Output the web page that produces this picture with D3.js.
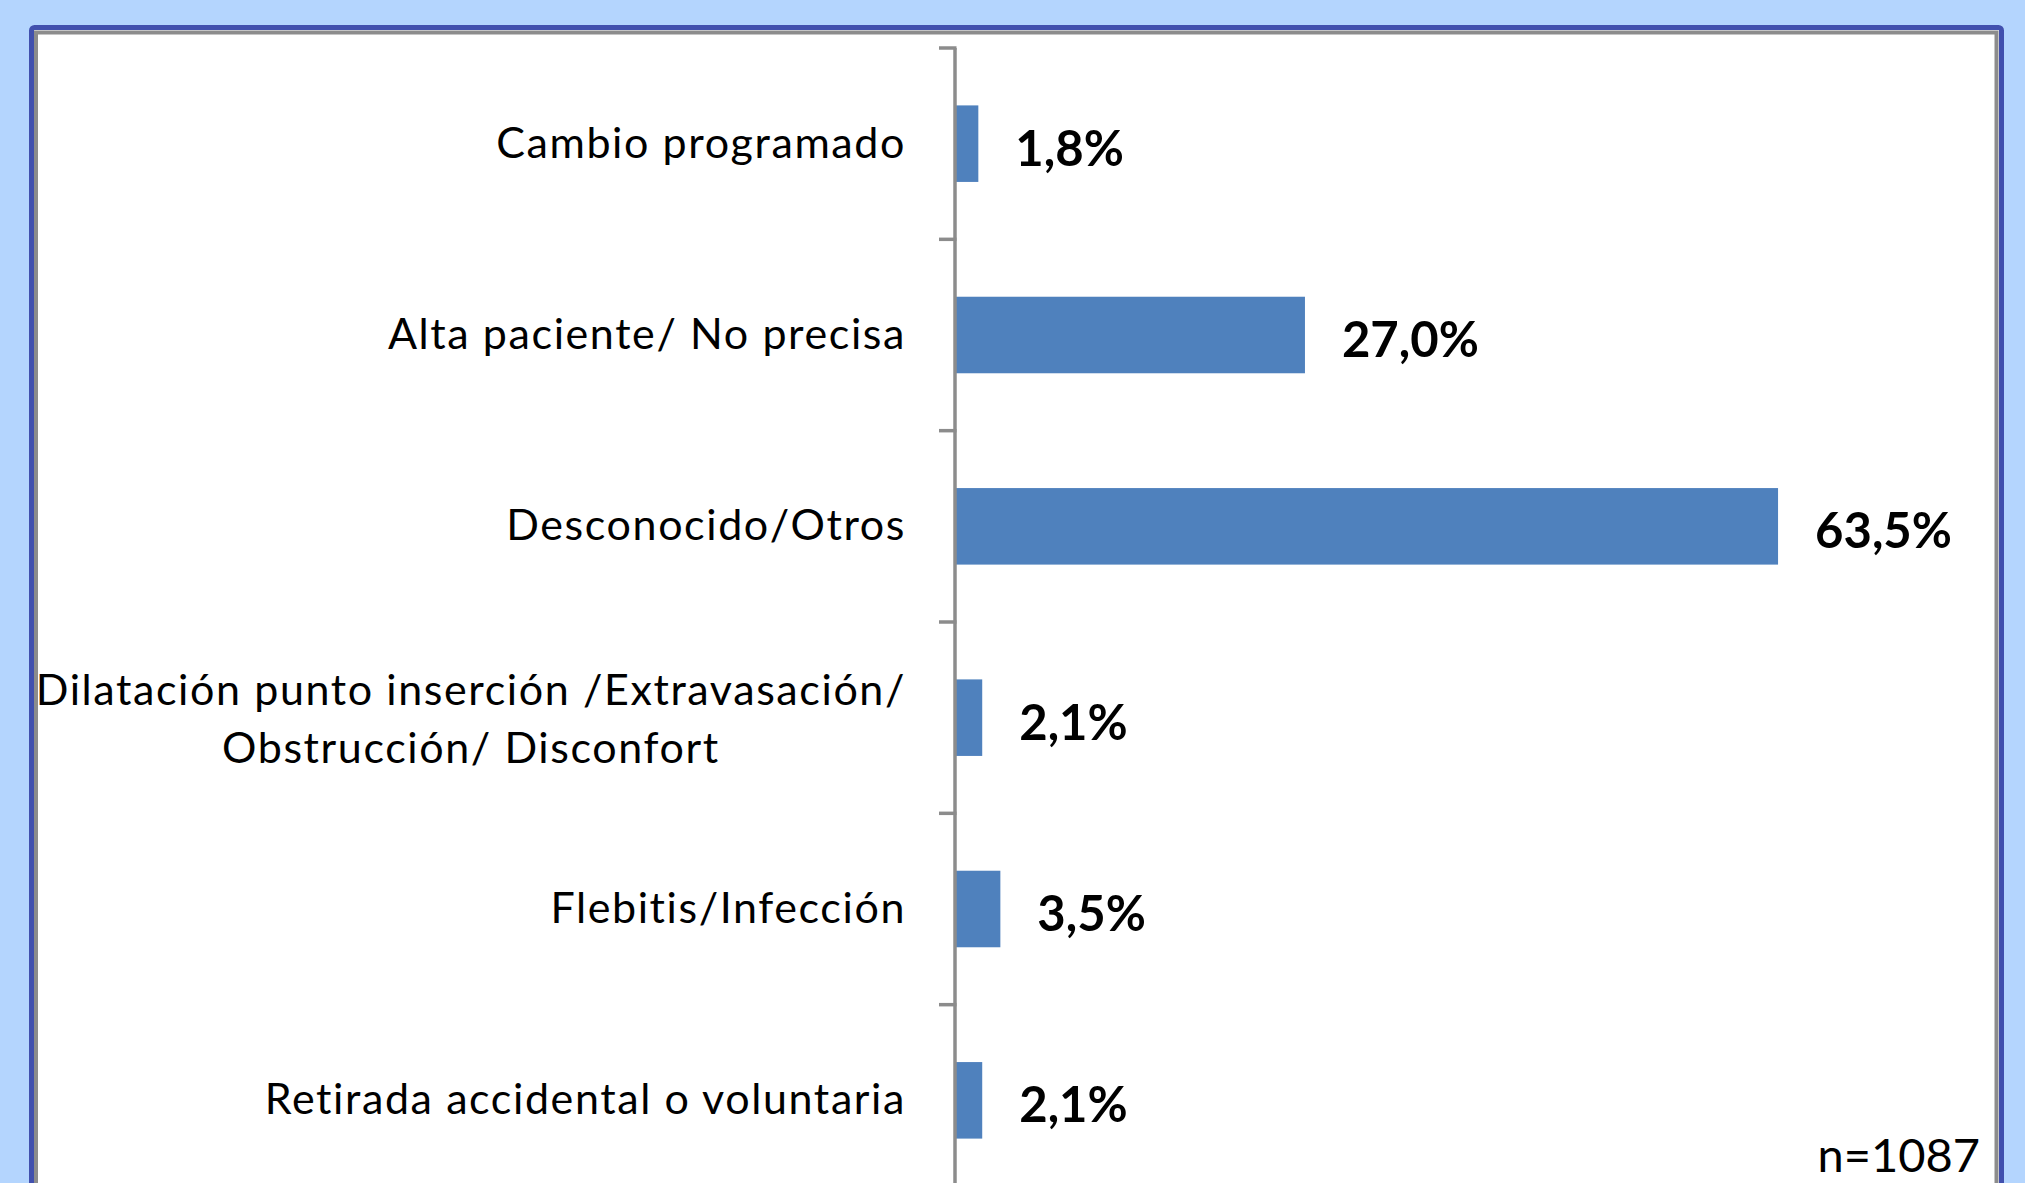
<!DOCTYPE html>
<html>
<head>
<meta charset="utf-8">
<script src="https://cdn.jsdelivr.net/npm/d3@7"></script>
<style>
  html, body { margin: 0; padding: 0; background: #B4D5FE; overflow: hidden; }
  svg { display: block; }
</style>
</head>
<body>
<svg id="chart" width="2025" height="1183"></svg>
<script>
// Motivos de retirada del catéter (porcentaje sobre n=1087)
const categories = [
  ["Cambio programado"],
  ["Alta paciente/ No precisa"],
  ["Desconocido/Otros"],
  ["Dilatación punto inserción /Extravasación/", "Obstrucción/ Disconfort"],
  ["Flebitis/Infección"],
  ["Retirada accidental o voluntaria"]
];
const values = [1.8, 27.0, 63.5, 2.1, 3.5, 2.1];
const valueLabels = ["1,8%", "27,0%", "63,5%", "2,1%", "3,5%", "2,1%"];
const sampleNote = "n=1087";

const width = 2025, height = 1183;
const svg = d3.select("#chart");

// Frame: blue outer border, grey inner border, white plot area
svg.append("rect")
  .attr("x", 31.5).attr("y", 27.5)
  .attr("width", 1970).attr("height", 1400)
  .attr("rx", 3)
  .attr("fill", "#fff")
  .attr("stroke", "#4150AE")
  .attr("stroke-width", 5);
svg.append("rect")
  .attr("x", 36).attr("y", 32.5)
  .attr("width", 1960.5).attr("height", 1400)
  .attr("fill", "none")
  .attr("stroke", "#8C8C8C")
  .attr("stroke-width", 4);

const keys = categories.map((c, i) => i);

const y = d3.scaleBand()
  .domain(keys)
  .range([48, 1196])
  .paddingInner(0.6)
  .paddingOuter(0.3);

const x = d3.scaleLinear()
  .domain([0, 70])
  .range([955, 1862.3]);

// Bars
svg.append("g")
  .selectAll("rect")
  .data(values)
  .join("rect")
  .attr("x", x(0))
  .attr("y", (d, i) => y(i))
  .attr("width", (d) => x(d) - x(0))
  .attr("height", y.bandwidth())
  .attr("fill", "#4F81BD");

// Axis line with ticks at band boundaries
const [y0, y1] = y.range();
const step = y.step();
const boundaries = d3.range(keys.length + 1).map((i) => y0 + i * step);
const axis = svg.append("g").attr("stroke", "#8C8C8C").attr("stroke-width", 3.5);
axis.append("line")
  .attr("x1", x(0)).attr("x2", x(0))
  .attr("y1", y0).attr("y2", y1);
axis.selectAll("line.tick")
  .data(boundaries)
  .join("line")
  .attr("class", "tick")
  .attr("x1", x(0) - 16).attr("x2", x(0) + 1.5)
  .attr("y1", (d) => d).attr("y2", (d) => d);

// Value labels
svg.append("g")
  .selectAll("text")
  .data(values)
  .join("text")
  .attr("x", (d) => x(d) + 37)
  .attr("y", (d, i) => y(i) + y.bandwidth() / 2 + 22)
  .attr("font-family", "Lato, 'Open Sans', sans-serif")
  .attr("font-weight", "bold")
  .attr("font-size", "49px")
  .attr("fill", "#000")
  .text((d, i) => valueLabels[i]);

// Category labels (right aligned, multi-line centred on each other)
const labelRight = 906;
const catG = svg.append("g")
  .attr("font-family", "Lato, 'Open Sans', sans-serif")
  .attr("font-size", "43px")
  .attr("letter-spacing", "1.6px")
  .attr("fill", "#000");

categories.forEach((lines, i) => {
  const cy = y(i) + y.bandwidth() / 2;
  if (lines.length === 1) {
    catG.append("text")
      .attr("x", labelRight)
      .attr("y", cy + 14)
      .attr("text-anchor", "end")
      .text(lines[0]);
  } else {
    const t = catG.append("text")
      .attr("x", labelRight)
      .attr("y", cy - 13)
      .attr("text-anchor", "end")
      .text(lines[0]);
    const w = t.node().getComputedTextLength();
    const cx = labelRight - w / 2;
    lines.slice(1).forEach((ln, j) => {
      catG.append("text")
        .attr("x", cx)
        .attr("y", cy - 13 + 58 * (j + 1))
        .attr("text-anchor", "middle")
        .text(ln);
    });
  }
});

// Sample size note
svg.append("text")
  .attr("x", 1980)
  .attr("y", 1172)
  .attr("text-anchor", "end")
  .attr("font-family", "Lato, 'Open Sans', sans-serif")
  .attr("font-size", "47px")
  .attr("fill", "#000")
  .text(sampleNote);
</script>
</body>
</html>
